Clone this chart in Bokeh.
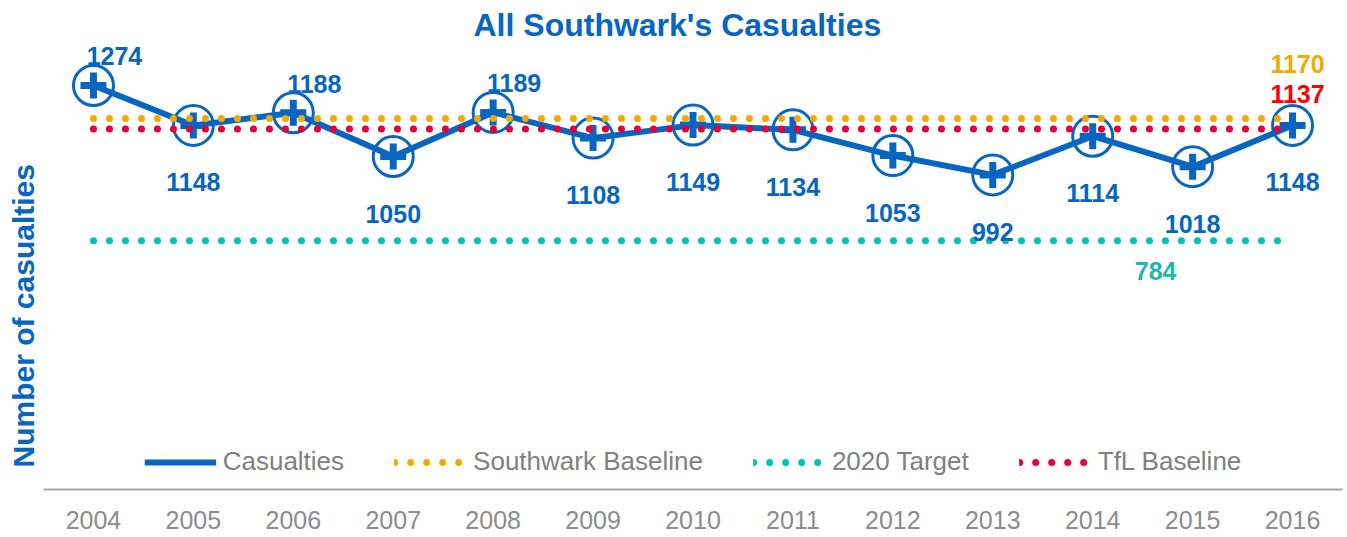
import math
from bokeh.plotting import figure
from bokeh.models import ColumnDataSource, Legend, LegendItem, Range1d, FactorRange, Title
from bokeh.core.properties import value
from bokeh.embed import file_html
from bokeh.resources import INLINE

# ---- data ----
years = ["2004", "2005", "2006", "2007", "2008", "2009", "2010",
         "2011", "2012", "2013", "2014", "2015", "2016"]
casualties = [1274, 1148, 1188, 1050, 1189, 1108, 1149, 1134, 1053, 992, 1114, 1018, 1148]
southwark_baseline = [1170, 1170, 1170, 1170, 1170, 1170, 1170, 1170, 1170, 1170, 1170, 1170, 1170]
target_2020 = [784, 784, 784, 784, 784, 784, 784, 784, 784, 784, 784, 784, 784]
tfl_baseline = [1137, 1137, 1137, 1137, 1137, 1137, 1137, 1137, 1137, 1137, 1137, 1137, 1137]
series_names = ["Casualties", "Southwark Baseline", "2020 Target", "TfL Baseline"]
title_text = "All Southwark's Casualties"
y_label_text = "Number of casualties"

# ---- styles ----
BLUE = "#0866C2"
YELLOW = "#F2A900"
TEAL = "#00C2B2"
RED = "#E4003A"
GRAY = "#8C8C8C"
FONT = value("Liberation Sans")
label_above = [True, False, True, False, True, False, False, False, False, False, False, False, False]

p = figure(x_range=FactorRange(*years, range_padding=0), y_range=Range1d(0, 1400),
           width=1347, height=537, output_backend="svg", toolbar_location=None,
           min_border_left=43, min_border_right=5, min_border_top=45, min_border_bottom=48)
p.outline_line_color = None
p.xgrid.visible = False
p.ygrid.visible = False
p.yaxis.visible = False

p.title.text = title_text
p.title.align = "left"
p.title.offset = 430
p.title.text_font = "Liberation Sans"
p.title.text_font_size = "32px"
p.title.text_font_style = "bold"
p.title.text_color = BLUE
p.title.standoff = 5

p.add_layout(Title(text=y_label_text, align="left", offset=22,
                   text_font="Liberation Sans", text_font_size="30px",
                   text_font_style="bold", text_color=BLUE, standoff=8), "left")

xa = p.xaxis[0]
xa.axis_line_color = "#A6A6A6"
xa.axis_line_width = 2
xa.major_tick_line_color = None
xa.minor_tick_line_color = None
xa.major_tick_out = 0
xa.major_label_standoff = 21
xa.major_label_text_font = "Liberation Sans"
xa.major_label_text_font_size = "25px"
xa.major_label_text_color = GRAY

src = ColumnDataSource(dict(
    x=years, y=casualties, sb=southwark_baseline, tg=target_2020, tfl=tfl_baseline,
    txt=[str(v) for v in casualties],
    dx=[21 if a else 0 for a in label_above],
    dy=[-29 if a else 57 for a in label_above],
))

r_cas = p.line("x", "y", source=src, line_color=BLUE, line_width=6)
p.scatter("x", "y", source=src, marker="circle", size=40, fill_color=None,
          line_color=BLUE, line_width=3)
p.scatter("x", "y", source=src, marker="cross", size=26, line_color=BLUE, line_width=7)

r_sb = p.line("x", "sb", source=src, line_color=YELLOW, line_width=7, line_dash="0 16", line_cap="round")
r_tg = p.line("x", "tg", source=src, line_color=TEAL, line_width=7, line_dash="0 16", line_cap="round")
r_tfl = p.line("x", "tfl", source=src, line_color=RED, line_width=7, line_dash="0 16", line_cap="round")

p.text("x", "y", text="txt", source=src, x_offset="dx", y_offset="dy",
       text_align="center", text_baseline="middle", text_font=FONT,
       text_font_size="25px", text_font_style="bold", text_color=BLUE)

bsrc = ColumnDataSource(dict(
    x=[years[-1], years[-1], years[-2]],
    y=[southwark_baseline[-1], tfl_baseline[-1], target_2020[-2]],
    txt=[str(southwark_baseline[-1]), str(tfl_baseline[-1]), str(target_2020[-2])],
    c=[YELLOW, "#FF0000", "#1DB8A8"],
    dx=[5, 5, -37],
    dy=[-54, -35, 30],
))
p.text("x", "y", text="txt", source=bsrc, x_offset="dx", y_offset="dy",
       text_align="center", text_baseline="middle", text_font=FONT,
       text_font_size="25px", text_font_style="bold", text_color="c")

legend = Legend(items=[
    LegendItem(label=series_names[0], renderers=[r_cas]),
    LegendItem(label=series_names[1], renderers=[r_sb]),
    LegendItem(label=series_names[2], renderers=[r_tg]),
    LegendItem(label=series_names[3], renderers=[r_tfl]),
], orientation="horizontal", location="bottom_center", glyph_width=72, glyph_height=28,
    label_standoff=7, spacing=50, label_text_font="Liberation Sans",
    label_text_font_size="26px", label_text_color="#808080",
    border_line_color=None, background_fill_alpha=0, padding=4, margin=12)
p.add_layout(legend)

open("out.html", "w").write(file_html(p, INLINE))
